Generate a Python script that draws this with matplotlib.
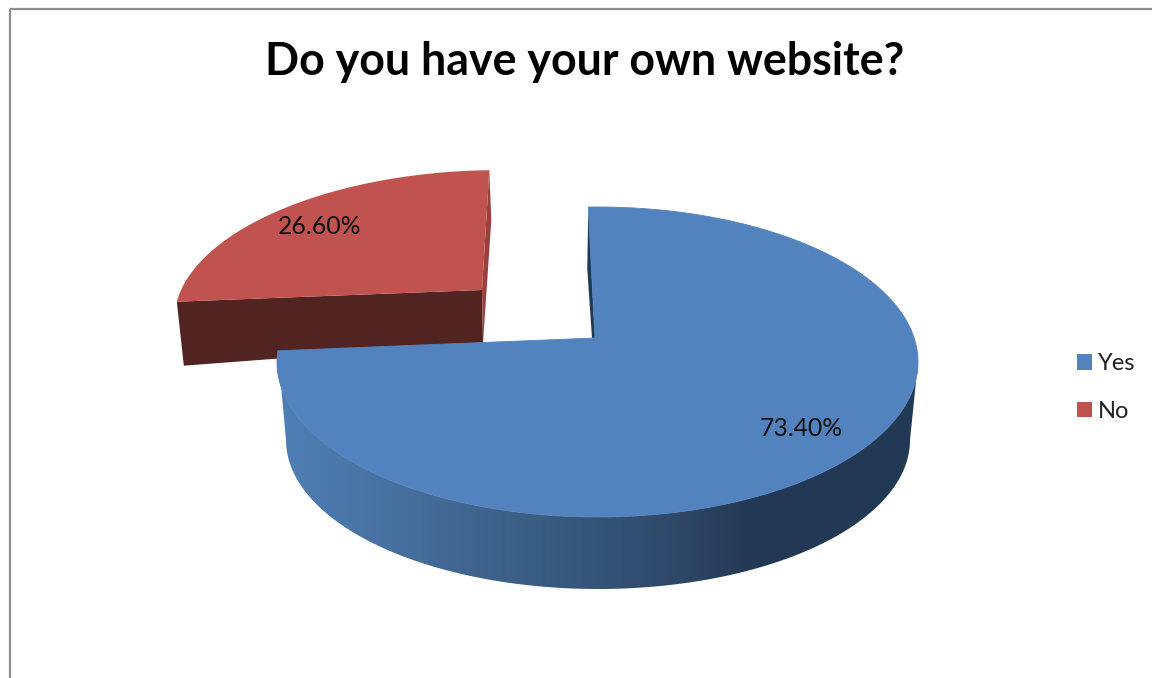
import numpy as np
import matplotlib
matplotlib.use("Agg")
import matplotlib.pyplot as plt
from matplotlib.patches import Polygon, Patch, Rectangle
from matplotlib.colors import LinearSegmentedColormap

title = "Do you have your own website?"
categories = ["Yes", "No"]
shares = [73.40, 26.60]
share_labels = ["73.40%", "26.60%"]

plt.rcParams["font.family"] = ["Lato", "DejaVu Sans"]
BLUE, RED, DARK_RED, DARK_BLUE = "#5383BE", "#C0524F", "#512422", "#1F3A57"

fig = plt.figure(figsize=(11.52, 6.78), dpi=100, facecolor="white")
ax = fig.add_axes([0, 0, 1, 1])
ax.set_axis_off()

# Projection of the tilted pie
apex = np.array([595.0, 338.0])
ecen = np.array([597.5, 362.0])
RX, RY = 320.5, 155.0
RAY_SQUASH = 0.34
START = 91.0


def rim(theta_deg):
    """Point of the top ellipse hit by a ray from the apex at a pie angle."""
    th = np.radians(theta_deg)
    d = np.array([np.cos(th), -np.sin(th) * RAY_SQUASH])
    o = apex - ecen
    a = (d[0] / RX) ** 2 + (d[1] / RY) ** 2
    b = 2 * (o[0] * d[0] / RX ** 2 + o[1] * d[1] / RY ** 2)
    c = (o[0] / RX) ** 2 + (o[1] / RY) ** 2 - 1
    s = (-b + np.sqrt(b * b - 4 * a * c)) / (2 * a)
    return apex + s * d


def arc(t0, t1, n=400):
    return np.array([rim(t) for t in np.linspace(t0, t1, n)])


yes_sweep = shares[0] / sum(shares) * 360
end = START - yes_sweep            # clockwise from the top
yes_arc = arc(START, end)

# ---------- exploded "No" slice ----------
r_apex = np.array([482.0, 290.0])
no_arc = arc(end + 360, START)
rel = no_arc - apex
no_pts = np.column_stack([r_apex[0] + 0.958 * rel[:, 0] - 0.105 * rel[:, 1],
                          r_apex[1] + 0.915 * rel[:, 1]])
no_left, no_top = no_pts[0], no_pts[-1]

ax.add_patch(Polygon([no_left, r_apex, r_apex + [1, 53], no_left + [7, 64]],
                     fc=DARK_RED, ec="none", zorder=1))
ax.add_patch(Polygon([no_top, no_top + [2, 50], r_apex + [1, 53], r_apex],
                     fc="#9A403E", ec="none", zorder=1))
ax.add_patch(Polygon(np.vstack([[r_apex], no_pts]), fc=RED, ec="none", zorder=2))

# ---------- "Yes" slice ----------
yes_top = yes_arc[0]
ax.add_patch(Polygon([yes_top, yes_top + [-1, 62], apex + [-3, 0], apex],
                     fc=DARK_BLUE, ec="none", zorder=3))

# wall: front part of the top rim down to the bottom rim
bcen = np.array([598.0, 440.0])
BX, BY = 312.0, 149.0
front = yes_arc[np.argmax(yes_arc[:, 1] > ecen[1] - 1):]  # right extreme to left corner
t = np.linspace(0, np.pi, 200)
bottom = np.column_stack([bcen[0] + BX * np.cos(t), bcen[1] + BY * np.sin(t)])
wall = Polygon(np.vstack([front, bottom[::-1]]), closed=True, fc="none", ec="none")
ax.add_patch(wall)
cmap = LinearSegmentedColormap.from_list("wall", [
    (0.00, "#4F7FB6"), (0.08, "#4C79AC"), (0.30, "#40658F"), (0.50, "#345578"),
    (0.65, "#2D4564"), (0.74, "#213954"), (1.00, "#213A55")])
im = ax.imshow(np.linspace(0, 1, 512)[None, :], cmap=cmap, aspect="auto",
               extent=[277, 918, 620, 340], zorder=3)
im.set_clip_path(wall)

ax.add_patch(Polygon(np.vstack([[apex], yes_arc]), fc=BLUE, ec=BLUE, lw=0.6, zorder=4))

# ---------- frame ----------
ax.add_patch(Rectangle((9.5, 8.5), 1300, 800, fc="none", ec="#8E8E8E", lw=1.6, zorder=0))

ax.set_xlim(0, 1152)
ax.set_ylim(678, 0)

# ---------- text ----------
ax.text(585, 62, title, fontsize=32.2, fontweight="bold", color="black",
        ha="center", va="center", zorder=6)
label_xy = [(801, 429), (319.5, 226)]
for s, (x, y) in zip(share_labels, label_xy):
    ax.text(x, y, s, fontsize=17.8, color="#111111", ha="center", va="center", zorder=6)

handles = [Patch(fc=BLUE, ec="none"), Patch(fc=RED, ec="none")]
ax.legend(handles, categories, loc="center left", bbox_to_anchor=(1056 / 1152, 1 - 387.5 / 678),
          frameon=False, fontsize=17, labelspacing=1.12, handlelength=0.62,
          handleheight=0.62, handletextpad=0.24, labelcolor="#222222")

fig.savefig("out.png", dpi=100)
